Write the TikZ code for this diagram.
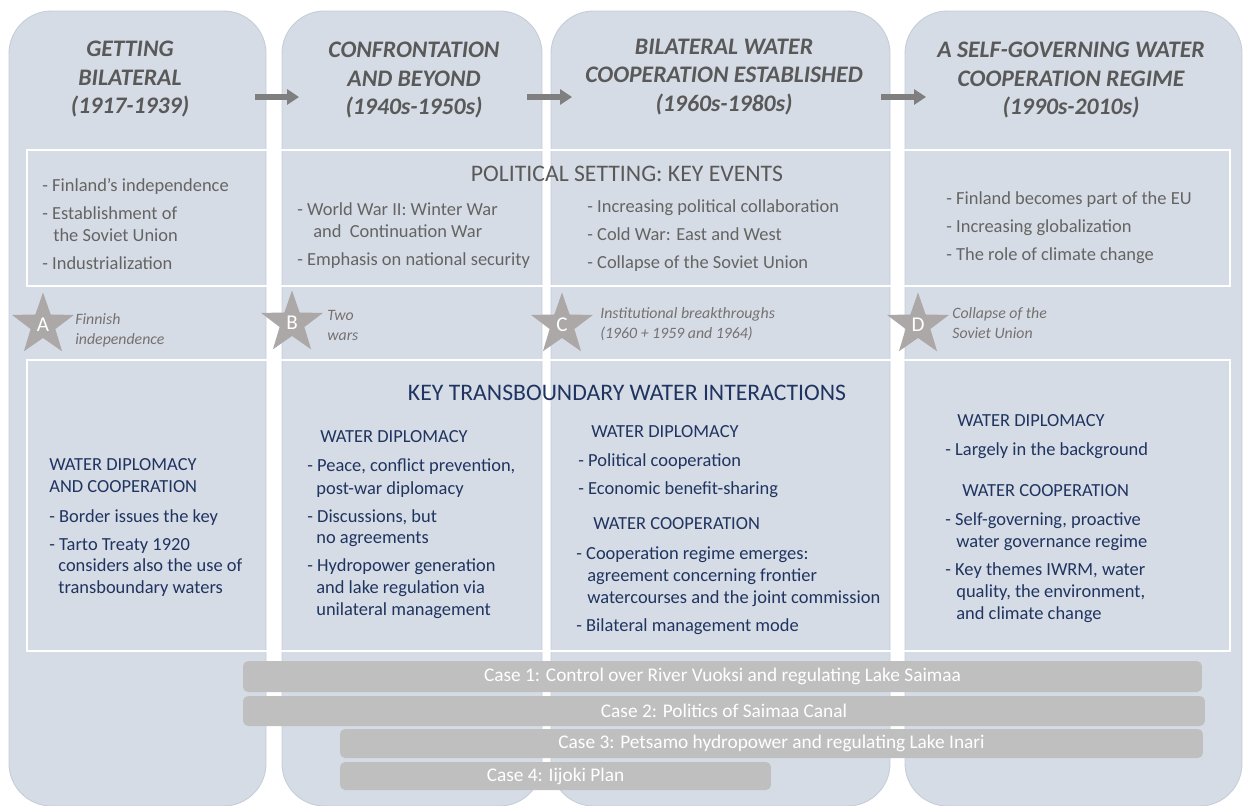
\documentclass[tikz,border=0pt]{standalone}
\usepackage{fontspec}
\setmainfont{Carlito}
\usetikzlibrary{arrows.meta,shapes.geometric}

\definecolor{colfill}{RGB}{214,220,229}
\definecolor{coledge}{RGB}{196,205,218}
\definecolor{headgrey}{RGB}{89,89,89}
\definecolor{evgrey}{RGB}{100,100,100}
\definecolor{labgrey}{RGB}{118,113,113}
\definecolor{stargrey}{RGB}{172,168,168}
\definecolor{casegrey}{RGB}{191,191,191}
\definecolor{arrowgrey}{RGB}{127,127,127}
\definecolor{navy}{RGB}{31,52,96}

\tikzset{
  column/.style={fill=colfill, draw=coledge, line width=0.5pt, rounded corners=0.85cm},
  framebox/.style={draw=white, line width=0.7pt},
  period/.style={align=center, text=headgrey, font=\fontsize{13.5}{16.4}\selectfont\bfseries\itshape},
  blocktitle/.style={inner sep=0pt, font=\fontsize{13.5}{16}\selectfont},
  event/.style={anchor=base west, inner sep=0pt, text=evgrey, font=\fontsize{10.5}{12}\selectfont},
  keyline/.style={anchor=base west, inner sep=0pt, text=navy, font=\fontsize{10.5}{12}\selectfont},
  milestone/.style={star, star points=5, star point ratio=2.5, fill=stargrey, minimum size=1.3cm,
    inner sep=0pt, text=white, font=\fontsize{12}{14}\selectfont},
  mslabel/.style={anchor=base west, inner sep=0pt, text=labgrey, font=\fontsize{9}{11}\selectfont\itshape},
  casebar/.style={fill=casegrey, rounded corners=0.1cm, text=white, inner sep=0pt,
    font=\fontsize{11}{13}\selectfont},
  stagearrow/.style={-{Triangle[length=0.24cm,width=0.3cm]}, line width=0.12cm, draw=arrowgrey}
}

\begin{document}
\begin{tikzpicture}[x=0.02cm, y=-0.02cm]
  \useasboundingbox (0,0) rectangle (1243,805);

  % periods
  \draw[column] (9,11) rectangle (266,806);
  \draw[column] (282,11) rectangle (542,806);
  \draw[column] (551,11) rectangle (890,806);
  \draw[column] (905,11) rectangle (1242,806);

  \draw[framebox] (27,150) rectangle (1230,286);
  \draw[framebox] (27,360) rectangle (1230,651);

  \node[period] (p1) at (130,79) {GETTING\\BILATERAL\\(1917-1939)};
  \node[period] (p2) at (414,80) {CONFRONTATION\\AND BEYOND\\(1940s-1950s)};
  \node[period] (p3) at (724,77) {BILATERAL WATER\\COOPERATION ESTABLISHED\\(1960s-1980s)};
  \node[period] (p4) at (1071,80) {A SELF-GOVERNING WATER\\COOPERATION REGIME\\(1990s-2010s)};

  \coordinate (a1s) at (255,97); \coordinate (a1e) at (299,97);
  \coordinate (a2s) at (527,97); \coordinate (a2e) at (572,97);
  \coordinate (a3s) at (881,97); \coordinate (a3e) at (926,97);
  \draw[stagearrow] (a1s) -- (a1e);
  \draw[stagearrow] (a2s) -- (a2e);
  \draw[stagearrow] (a3s) -- (a3e);

  % political setting
  \node[blocktitle, text=headgrey] (poltitle) at (627,174) {POLITICAL SETTING: KEY EVENTS};

  \node[event] (e1a) at (42,191) {- Finland’s independence};
  \node[event] (e1b) at (42,219) {- Establishment of};
  \node[event] (e1c) at (53,241) {the Soviet Union};
  \node[event] (e1d) at (42,269) {- Industrialization};

  \node[event] (e2a) at (297,215) {- World War II: Winter War};
  \node[event] (e2b) at (313,237) {and \ Continuation War};
  \node[event] (e2c) at (297,265) {- Emphasis on national security};

  \node[event] (e3a) at (587,212) {- Increasing political collaboration};
  \node[event] (e3b) at (587,240) {- Cold War: East and West};
  \node[event] (e3c) at (587,268) {- Collapse of the Soviet Union};

  \node[event] (e4a) at (946,204) {- Finland becomes part of the EU};
  \node[event] (e4b) at (946,232) {- Increasing globalization};
  \node[event] (e4c) at (946,260) {- The role of climate change};

  % milestones
  \node[milestone] (sA) at (43,325) {A};
  \node[milestone] (sB) at (292,323) {B};
  \node[milestone] (sC) at (562,325) {C};
  \node[milestone] (sD) at (918,325) {D};

  \node[mslabel] (lA1) at (75,324) {Finnish};
  \node[mslabel] (lA2) at (75,344) {independence};
  \node[mslabel] (lB1) at (327,320) {Two};
  \node[mslabel] (lB2) at (327,340) {wars};
  \node[mslabel] (lC1) at (600,318) {Institutional breakthroughs};
  \node[mslabel] (lC2) at (600,338) {(1960 + 1959 and 1964)};
  \node[mslabel] (lD1) at (952,318) {Collapse of the};
  \node[mslabel] (lD2) at (952,338) {Soviet Union};

  % water interactions
  \node[blocktitle, text=navy] (keytitle) at (627,393) {KEY TRANSBOUNDARY WATER INTERACTIONS};

  \node[keyline] (k1a) at (49,470) {WATER DIPLOMACY};
  \node[keyline] (k1b) at (49,492) {AND COOPERATION};
  \node[keyline] (k1c) at (49,522) {- Border issues the key};
  \node[keyline] (k1d) at (49,550) {- Tarto Treaty 1920};
  \node[keyline] (k1e) at (58,571) {considers also the use of};
  \node[keyline] (k1f) at (58,593) {transboundary waters};

  \node[keyline] (k2a) at (320,442) {WATER DIPLOMACY};
  \node[keyline] (k2b) at (307,471) {- Peace, conflict prevention,};
  \node[keyline] (k2c) at (316,494) {post-war diplomacy};
  \node[keyline] (k2d) at (307,522) {- Discussions, but};
  \node[keyline] (k2e) at (316,543) {no agreements};
  \node[keyline] (k2f) at (307,571) {- Hydropower generation};
  \node[keyline] (k2g) at (316,593) {and lake regulation via};
  \node[keyline] (k2h) at (316,615) {unilateral management};

  \node[keyline] (k3a) at (591,437) {WATER DIPLOMACY};
  \node[keyline] (k3b) at (578,466) {- Political cooperation};
  \node[keyline] (k3c) at (578,494) {- Economic benefit-sharing};
  \node[keyline] (k3d) at (593,529) {WATER COOPERATION};
  \node[keyline] (k3e) at (576,559) {- Cooperation regime emerges:};
  \node[keyline] (k3f) at (587,581) {agreement concerning frontier};
  \node[keyline] (k3g) at (587,603) {watercourses and the joint commission};
  \node[keyline] (k3h) at (576,631) {- Bilateral management mode};

  \node[keyline] (k4a) at (957,426) {WATER DIPLOMACY};
  \node[keyline] (k4b) at (945,455) {- Largely in the background};
  \node[keyline] (k4c) at (962,496) {WATER COOPERATION};
  \node[keyline] (k4d) at (945,525) {- Self-governing, proactive};
  \node[keyline] (k4e) at (956,547) {water governance regime};
  \node[keyline] (k4f) at (945,575) {- Key themes IWRM, water};
  \node[keyline] (k4g) at (956,597) {quality, the environment,};
  \node[keyline] (k4h) at (956,619) {and climate change};

  % cases
  \node[casebar, minimum width=19.18cm, minimum height=0.62cm] (case1) at (722.5,676.5) {Case 1: Control over River Vuoksi and regulating Lake Saimaa};
  \node[casebar, minimum width=19.24cm, minimum height=0.6cm] (case2) at (724,711) {Case 2: Politics of Saimaa Canal};
  \node[casebar, minimum width=17.26cm, minimum height=0.58cm] (case3) at (771.5,743.5) {Case 3: Petsamo hydropower and regulating Lake Inari};
  \node[casebar, minimum width=8.62cm, minimum height=0.56cm] (case4) at (555.5,776) {Case 4: Iijoki Plan};
\end{tikzpicture}
\end{document}
